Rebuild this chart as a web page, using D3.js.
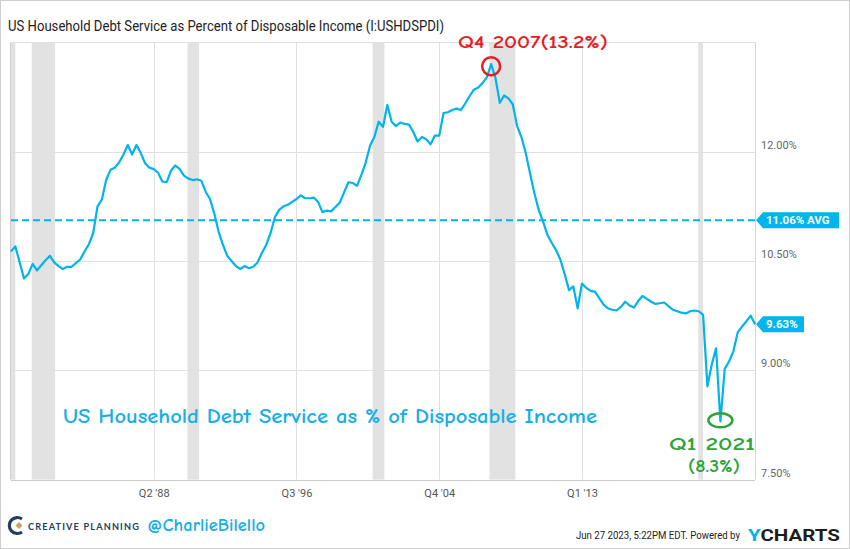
<!DOCTYPE html>
<html><head><meta charset="utf-8">
<script src="https://cdn.jsdelivr.net/npm/d3@7"></script>
<style>
html,body{margin:0;padding:0;background:#fff;}
svg{display:block;}
</style></head>
<body>
<svg id="chart" width="850" height="549"></svg>
<script>
// ---- data ----
const startYear = 1980; // Q1 1980, quarterly
const values = [
10.63,10.70,10.48,10.26,10.32,10.46,10.37,10.44,10.51,10.57,10.48,10.43,10.39,10.42,10.42,10.47,
10.52,10.63,10.73,10.88,11.25,11.34,11.61,11.75,11.78,11.85,11.96,12.09,11.96,12.09,11.98,11.84,
11.78,11.76,11.71,11.59,11.58,11.74,11.81,11.76,11.67,11.63,11.61,11.62,11.60,11.45,11.35,11.15,
10.90,10.72,10.57,10.50,10.43,10.39,10.43,10.40,10.42,10.48,10.61,10.72,10.88,11.10,11.20,11.25,
11.27,11.31,11.35,11.40,11.36,11.36,11.37,11.31,11.17,11.19,11.18,11.24,11.30,11.44,11.58,11.57,
11.53,11.68,11.85,12.08,12.20,12.41,12.34,12.64,12.41,12.35,12.40,12.38,12.37,12.27,12.14,12.20,
12.17,12.10,12.22,12.22,12.53,12.54,12.57,12.59,12.57,12.66,12.76,12.85,12.88,12.94,13.02,13.20,
13.01,12.67,12.77,12.73,12.65,12.35,12.20,11.98,11.70,11.43,11.20,11.04,10.86,10.75,10.65,10.52,
10.32,10.10,10.15,9.85,10.19,10.13,10.09,10.08,9.99,9.90,9.85,9.83,9.82,9.87,9.94,9.89,
9.86,9.95,10.02,9.98,9.94,9.91,9.92,9.93,9.88,9.83,9.81,9.79,9.78,9.81,9.82,9.81,
9.76,8.78,9.08,9.30,8.30,9.02,9.12,9.26,9.52,9.60,9.67,9.75,9.63
];
const average = 11.06;
const lastValue = 9.63;
const yTicks = [7.5, 9.0, 10.5, 12.0];
const yTickLabels = ["7.50%", "9.00%", "10.50%", "12.00%"];
const xTicks = [1988.25, 1996.5, 2004.75, 2013.0];
const xTickLabels = ["Q2 '88", "Q3 '96", "Q4 '04", "Q1 '13"];
const recessions = [[1980.0,1980.25],[1981.2,1982.55],[1990.2,1990.87],[2000.9,2001.58],[2007.65,2009.15],[2019.72,2020.0]];
const peak = {t: 2007.75, v: 13.2, label: "Q4 2007(13.2%)"};
const trough = {t: 2021.0, v: 8.3, label1: "Q1 2021", label2: "(8.3%)"};

const data = values.map((v,i)=>({t: startYear + i/4, v}));

// ---- layout ----
const W = 850, H = 549;
const L = 11, R = 755, T = 42.3, B = 479.6;
const svg = d3.select("#chart");
const x = d3.scaleLinear().domain([1980, 2023]).range([L, R]);
const y = d3.scaleLinear().domain([7.5, 13.5]).range([B, T]);
const cyan = "#00b4ec";

// outer border
svg.append("rect").attr("x",0.5).attr("y",0.5).attr("width",W-1).attr("height",H-1)
  .attr("fill","#fff").attr("stroke","#cfcfcf");

// title
svg.append("text").attr("x",8).attr("y",31).attr("font-family","Roboto, sans-serif")
  .attr("font-size",14).attr("fill","#222").attr("textLength",436).attr("lengthAdjust","spacingAndGlyphs")
  .text("US Household Debt Service as Percent of Disposable Income (I:USHDSPDI)");

// recession bands
svg.append("g").selectAll("rect").data(recessions).join("rect")
  .attr("x", d=>x(d[0])).attr("width", d=>x(d[1])-x(d[0]))
  .attr("y", T).attr("height", B-T).attr("fill","#e2e2e2");

// grid lines
svg.append("g").selectAll("line").data(yTicks.concat([13.5])).join("line")
  .attr("x1", L).attr("x2", R).attr("y1", d=>Math.round(y(d))+0.5).attr("y2", d=>Math.round(y(d))+0.5)
  .attr("stroke","#e0e0e0");
svg.append("g").selectAll("line").data(xTicks).join("line")
  .attr("x1", d=>Math.round(x(d))+0.5).attr("x2", d=>Math.round(x(d))+0.5).attr("y1", T).attr("y2", B)
  .attr("stroke","#e0e0e0");
// plot frame
svg.append("line").attr("x1",R+0.5).attr("x2",R+0.5).attr("y1",T).attr("y2",B).attr("stroke","#d6d6d6");
svg.append("line").attr("x1",L-0.5).attr("x2",L-0.5).attr("y1",T).attr("y2",B).attr("stroke","#cccccc");
svg.append("line").attr("x1",L).attr("x2",R).attr("y1",Math.round(B)+0.5).attr("y2",Math.round(B)+0.5).attr("stroke","#cccccc");

// y axis labels
const yAxis = d3.axisRight(y).tickValues(yTicks).tickSize(0)
  .tickFormat((d,i)=>yTickLabels[i]);
const gy = svg.append("g").attr("transform",`translate(${R+6},-7)`).call(yAxis);
gy.select(".domain").remove();
gy.selectAll("text").attr("font-family","Roboto, sans-serif").attr("font-size",11).attr("fill","#666").attr("x",0);

// x axis labels
const xAxis = d3.axisBottom(x).tickValues(xTicks).tickSize(0)
  .tickFormat((d,i)=>xTickLabels[i]);
const gx = svg.append("g").attr("transform",`translate(0,${B+7})`).call(xAxis);
gx.select(".domain").remove();
gx.selectAll("text").attr("font-family","Roboto, sans-serif").attr("font-size",11).attr("fill","#555");

// average dashed line
svg.append("line").attr("x1",L).attr("x2",R).attr("y1",y(average)).attr("y2",y(average))
  .attr("stroke",cyan).attr("stroke-width",2).attr("stroke-dasharray","7,4");

// series line
svg.append("path").datum(data)
  .attr("d", d3.line().x(d=>x(d.t)).y(d=>y(d.v)))
  .attr("fill","none").attr("stroke",cyan).attr("stroke-width",2.2).attr("stroke-linejoin","round");

// right-side flag labels
function flag(val, text, w){
  const yy = y(val);
  const g = svg.append("g");
  g.append("path").attr("d",`M${R+1},${yy} L${R+8},${yy-8} L${R+8+w},${yy-8} L${R+8+w},${yy+8} L${R+8},${yy+8} Z`)
    .attr("fill",cyan);
  g.append("text").attr("x",R+11).attr("y",yy+4).attr("font-family","Roboto, sans-serif")
    .attr("font-size",11.5).attr("font-weight","bold").attr("fill","#fff").text(text);
}
flag(average, "11.06% AVG", 76);
flag(lastValue, "9.63%", 41);

// annotations
const hand = "'Comic Neue','Segoe Print','Lato', sans-serif";
svg.append("circle").attr("cx",x(peak.t)).attr("cy",y(peak.v)+2).attr("r",9)
  .attr("fill","none").attr("stroke","#e31e24").attr("stroke-width",2.5);
svg.append("text").attr("x",458).attr("y",48).attr("font-family",hand).attr("font-weight",600)
  .attr("font-size",17).attr("fill","#e31e24").attr("textLength",150).attr("lengthAdjust","spacingAndGlyphs")
  .text(peak.label);

svg.append("ellipse").attr("cx",x(trough.t)).attr("cy",y(trough.v)-1).attr("rx",12).attr("ry",7)
  .attr("fill","none").attr("stroke","#2ca53a").attr("stroke-width",2.5);
svg.append("text").attr("x",712).attr("y",450).attr("text-anchor","middle").attr("font-family",hand).attr("font-weight",600)
  .attr("font-size",17).attr("fill","#2ca53a").attr("textLength",86).attr("lengthAdjust","spacingAndGlyphs")
  .text(trough.label1);
svg.append("text").attr("x",714).attr("y",472).attr("text-anchor","middle").attr("font-family",hand).attr("font-weight",600)
  .attr("font-size",17).attr("fill","#2ca53a").attr("textLength",52).attr("lengthAdjust","spacingAndGlyphs")
  .text(trough.label2);

svg.append("text").attr("x",63).attr("y",423).attr("font-family",hand).attr("font-weight",600)
  .attr("font-size",21).attr("fill","#1aaee6").attr("textLength",534).attr("lengthAdjust","spacingAndGlyphs")
  .text("US Household Debt Service as % of Disposable Income");

// footer
const logo = svg.append("g").attr("transform","translate(10,517)");
logo.append("path").attr("d","M12,2 A8,8 0 1 0 12,15").attr("fill","none").attr("stroke","#24405e").attr("stroke-width",3.2);
logo.append("path").attr("d","M9,5 L12.5,8.5 L9,12 L5.5,8.5 Z").attr("fill","#c9a36a");
svg.append("text").attr("x",28).attr("y",530).attr("font-family","Lato, 'Open Sans', sans-serif").attr("font-weight","bold")
  .attr("font-size",9.5).attr("fill","#24405e").attr("letter-spacing",1.2).attr("textLength",112).attr("lengthAdjust","spacingAndGlyphs")
  .text("CREATIVE PLANNING");
svg.append("text").attr("x",147).attr("y",531).attr("font-family",hand).attr("font-weight",600)
  .attr("font-size",17).attr("fill","#1aaee6").attr("textLength",118).attr("lengthAdjust","spacingAndGlyphs")
  .text("@CharlieBilello");
svg.append("text").attr("x",576).attr("y",539).attr("font-family","Roboto, sans-serif")
  .attr("font-size",10).attr("fill","#222").attr("textLength",164).attr("lengthAdjust","spacingAndGlyphs")
  .text("Jun 27 2023, 5:22PM EDT.  Powered by");
const yc = svg.append("text").attr("x",748).attr("y",541).attr("font-family","Roboto, sans-serif")
  .attr("font-weight","bold").attr("font-size",17).attr("textLength",92).attr("lengthAdjust","spacingAndGlyphs");
yc.append("tspan").attr("fill",cyan).text("Y");
yc.append("tspan").attr("fill","#1d1d1d").text("CHARTS");
</script>
</body></html>
